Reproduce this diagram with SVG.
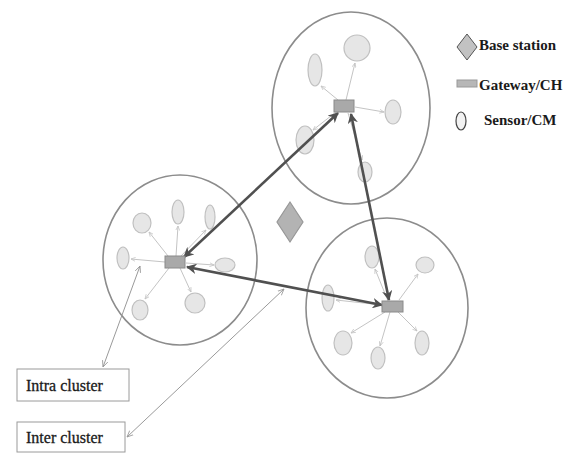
<svg xmlns="http://www.w3.org/2000/svg" width="571" height="454" viewBox="0 0 571 454">
<style>
.cl{fill:none;stroke:#8c8c8c;stroke-width:1.6}
.s{fill:#e6e6e6;stroke:#c0c0c0;stroke-width:1.2}
.gw{fill:#a9a9a9;stroke:#8a8a8a;stroke-width:1}
.thin{stroke:#c4c4c4;stroke-width:1;fill:none;marker-end:url(#ah)}
.thick{stroke:#505050;stroke-width:2.6;fill:none;marker-start:url(#AH);marker-end:url(#AH)}
.lab{stroke:#9a9a9a;stroke-width:1;fill:none;marker-start:url(#lh);marker-end:url(#lh)}
.t{font-family:"Liberation Serif",serif;font-size:16px;fill:#1a1a1a;stroke:#1a1a1a;stroke-width:0.3}
.lg{font-family:"Liberation Serif",serif;font-size:15px;font-weight:bold;fill:#1a1a1a}
.box{fill:#fff;stroke:#9a9a9a;stroke-width:1}
</style>
<defs>
<marker id="ah" viewBox="0 0 10 10" refX="9" refY="5" markerWidth="5" markerHeight="5" orient="auto-start-reverse"><path d="M0,1 L9,5 L0,9" fill="none" stroke="#c4c4c4" stroke-width="1.5"/></marker>
<marker id="AH" viewBox="0 0 10 10" refX="9" refY="5" markerWidth="4" markerHeight="4" orient="auto-start-reverse"><path d="M0,0 L10,5 L0,10 L3,5 Z" fill="#505050"/></marker>
<marker id="lh" viewBox="0 0 10 10" refX="9" refY="5" markerWidth="7" markerHeight="7" orient="auto-start-reverse"><path d="M0,1 L9,5 L0,9" fill="none" stroke="#9a9a9a" stroke-width="1.2"/></marker>
</defs>
<rect width="571" height="454" fill="#fff"/>

<g id="cluster-top">
<ellipse class="cl" cx="351" cy="108" rx="79" ry="96"/>
<circle class="s" cx="357" cy="48" r="13"/>
<ellipse class="s" cx="315" cy="70" rx="7" ry="16"/>
<ellipse class="s" cx="393" cy="112" rx="8" ry="12"/>
<ellipse class="s" cx="305" cy="140" rx="9" ry="14"/>
<ellipse class="s" cx="365" cy="172" rx="7" ry="10"/>
</g>
<g id="cluster-left">
<ellipse class="cl" cx="180" cy="260" rx="77" ry="85"/>
<ellipse class="s" cx="142" cy="223" rx="9" ry="10"/>
<ellipse class="s" cx="178" cy="212" rx="6" ry="12"/>
<ellipse class="s" cx="210" cy="217" rx="5" ry="12"/>
<ellipse class="s" cx="123" cy="258" rx="6" ry="11"/>
<ellipse class="s" cx="225" cy="265" rx="10" ry="7"/>
<ellipse class="s" cx="140" cy="310" rx="8" ry="10"/>
<ellipse class="s" cx="195" cy="303" rx="10" ry="10"/>
</g>
<g id="cluster-right">
<ellipse class="cl" cx="387" cy="308" rx="81" ry="90"/>
<ellipse class="s" cx="372" cy="257" rx="7" ry="11"/>
<ellipse class="s" cx="425" cy="265" rx="9" ry="8"/>
<ellipse class="s" cx="328" cy="298" rx="6" ry="13"/>
<ellipse class="s" cx="343" cy="343" rx="9" ry="12"/>
<ellipse class="s" cx="378" cy="358" rx="7" ry="11"/>
<ellipse class="s" cx="422" cy="343" rx="7" ry="12"/>
</g>

<g id="connectors">
<line class="thin" x1="346" y1="100" x2="355" y2="63"/>
<line class="thin" x1="338" y1="100" x2="321" y2="86"/>
<line class="thin" x1="355" y1="107" x2="384" y2="112"/>
<line class="thin" x1="336" y1="112" x2="313" y2="130"/>
<line class="thin" x1="348" y1="113" x2="362" y2="160"/>
<line class="thin" x1="168" y1="256" x2="149" y2="232"/>
<line class="thin" x1="176" y1="256" x2="178" y2="226"/>
<line class="thin" x1="181" y1="256" x2="206" y2="230"/>
<line class="thin" x1="165" y1="262" x2="131" y2="259"/>
<line class="thin" x1="186" y1="263" x2="214" y2="265"/>
<line class="thin" x1="169" y1="268" x2="145" y2="299"/>
<line class="thin" x1="180" y1="268" x2="191" y2="292"/>
<line class="thin" x1="388" y1="301" x2="375" y2="269"/>
<line class="thin" x1="399" y1="300" x2="418" y2="274"/>
<line class="thin" x1="382" y1="305" x2="336" y2="300"/>
<line class="thin" x1="385" y1="312" x2="351" y2="333"/>
<line class="thin" x1="390" y1="312" x2="380" y2="346"/>
<line class="thin" x1="398" y1="312" x2="417" y2="331"/>
<line class="thick" x1="338" y1="113" x2="184" y2="257"/>
<line class="thick" x1="351" y1="114" x2="389" y2="300"/>
<line class="thick" x1="187" y1="267" x2="382" y2="305"/>
<line class="lab" x1="140" y1="266" x2="103" y2="367"/>
<line class="lab" x1="284" y1="289" x2="127" y2="437"/>
</g>

<g id="gw-top"><rect class="gw" x="334" y="100" width="20" height="12"/></g>
<g id="gw-left"><rect class="gw" x="165" y="256" width="20" height="12"/></g>
<g id="gw-right"><rect class="gw" x="382" y="301" width="21" height="11"/></g>
<g id="base-station"><polygon points="290,202 303,222 290,242 277,222" fill="#b3b3b3" stroke="#979797" stroke-width="1.2"/></g>

<g id="legend">
<polygon points="467,34 477,47 467,60 457,47" fill="#c2c2c2" stroke="#555" stroke-width="1"/>
<text class="lg" x="479" y="50">Base station</text>
<rect x="457" y="80" width="20" height="7" fill="#b7b7b7" stroke="#999" stroke-width="1"/>
<text class="lg" x="479" y="90">Gateway/CH</text>
<ellipse cx="461" cy="121" rx="5" ry="9" fill="#f2f2f2" stroke="#444" stroke-width="1.2"/>
<text class="lg" x="484" y="125">Sensor/CM</text>
</g>

<g id="intra-label"><rect class="box" x="17" y="369" width="112" height="32"/><text class="t" x="26" y="391">Intra cluster</text></g>
<g id="inter-label"><rect class="box" x="17" y="422" width="108" height="30"/><text class="t" x="26" y="443">Inter cluster</text></g>
</svg>
